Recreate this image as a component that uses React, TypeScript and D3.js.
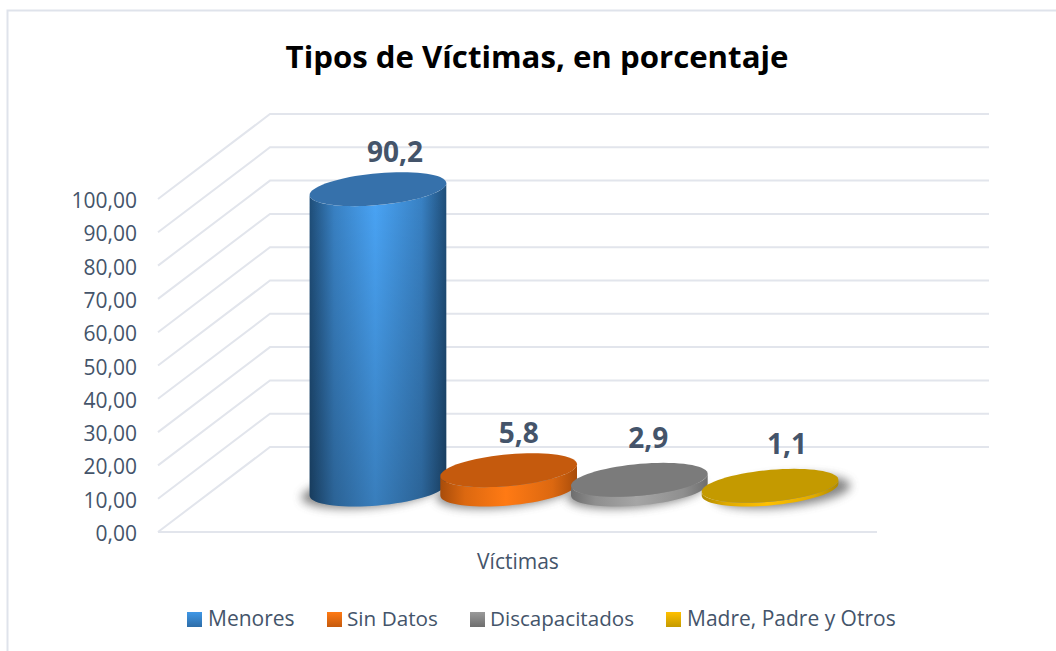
import React, { useRef, useEffect } from "react";
import * as d3 from "d3";

const title = "Tipos de Víctimas, en porcentaje";
const axisTitle = "Víctimas";
const categories = ["Menores", "Sin Datos", "Discapacitados", "Madre, Padre y Otros"];
const values = [90.2, 5.8, 2.9, 1.1];
const valueLabels = ["90,2", "5,8", "2,9", "1,1"];
const yTicks = [0, 10, 20, 30, 40, 50, 60, 70, 80, 90, 100];

const topColors = ["#3671ab", "#c55a0d", "#7b7b7b", "#c49a00"];
const edgeColors = ["#1f4e79", "#a84c0a", "#6e6e6e", "#b08a00"];
const midColors = ["#4aa5f7", "#ff7a14", "#a5a5a5", "#ffc000"];
const swatchTop = ["#3f97e6", "#ff7a14", "#9a9a9a", "#ffc000"];
const swatchBottom = ["#2e6da8", "#c55a0d", "#6e6e6e", "#c49a00"];

const labelDx = [17, 10, 9, 17];
const labelDy = [-27, -27, -32, -32];
const legendSwatchX = [187, 327, 470, 666];
const legendTextX = [21, 20, 20, 21];
const legendFontSize = [21, 20.7, 20.6, 21];
const shadowDx = [-8, -4, -4, 12];

const textColor = "#44546a";
const gridColor = "#e2e5ec";
const font = "'Open Sans', sans-serif";

export default function App() {
  const ref = useRef<SVGSVGElement>(null);

  useEffect(() => {
    const svg = d3.select(ref.current);
    svg.selectAll("*").remove();

    const width = 1056;
    const height = 651;
    const depth = { x: 112, y: -85 };

    // y scale is the front face of the 3D box
    const y = d3.scaleLinear().domain([0, 100]).range([532, 199]);
    const x = d3.scaleBand().domain(categories).range([312.6, 835.4]);
    const cx = (c: string) => x(c)! + x.bandwidth() / 2;
    const baseY = y(0) + depth.y / 2;

    // outer frame
    svg
      .append("path")
      .attr("d", `M7.5,${height} V10.5 H${width}`)
      .attr("fill", "none")
      .attr("stroke", "#dfe3eb")
      .attr("stroke-width", 2);

    const defs = svg.append("defs");
    defs
      .append("filter")
      .attr("id", "blur")
      .attr("x", "-30%")
      .attr("y", "-50%")
      .attr("width", "160%")
      .attr("height", "200%")
      .append("feGaussianBlur")
      .attr("stdDeviation", 5);

    categories.forEach((c, i) => {
      const g = defs.append("linearGradient").attr("id", `body${i}`);
      const blend = d3.interpolateRgb(edgeColors[i], midColors[i])(0.6);
      g.append("stop").attr("offset", "0%").attr("stop-color", edgeColors[i]);
      g.append("stop").attr("offset", "18%").attr("stop-color", blend);
      g.append("stop").attr("offset", "48%").attr("stop-color", midColors[i]);
      g.append("stop").attr("offset", "82%").attr("stop-color", blend);
      g.append("stop").attr("offset", "100%").attr("stop-color", edgeColors[i]);
      const s = defs
        .append("linearGradient")
        .attr("id", `swatch${i}`)
        .attr("x1", 0)
        .attr("x2", 0)
        .attr("y1", 0)
        .attr("y2", 1);
      s.append("stop").attr("offset", "0%").attr("stop-color", swatchTop[i]);
      s.append("stop").attr("offset", "100%").attr("stop-color", swatchBottom[i]);
    });
    const shade = defs
      .append("linearGradient")
      .attr("id", "shade")
      .attr("x1", 0)
      .attr("x2", 0)
      .attr("y1", 0)
      .attr("y2", 1);
    shade.append("stop").attr("offset", "0%").attr("stop-color", "#000").attr("stop-opacity", 0);
    shade.append("stop").attr("offset", "100%").attr("stop-color", "#000").attr("stop-opacity", 0.24);

    // gridlines, front left -> back left -> back right
    svg
      .append("g")
      .selectAll("path")
      .data(yTicks)
      .join("path")
      .attr("d", (d) => {
        const yy = y(d);
        return `M158,${yy} L${158 + depth.x},${yy + depth.y} H989`;
      })
      .attr("fill", "none")
      .attr("stroke", gridColor)
      .attr("stroke-width", 2);
    svg
      .append("line")
      .attr("x1", 158)
      .attr("x2", 877)
      .attr("y1", y(0))
      .attr("y2", y(0))
      .attr("stroke", gridColor)
      .attr("stroke-width", 2);

    // axis labels
    const axis = d3
      .axisLeft(y)
      .tickValues(yTicks)
      .tickSize(0)
      .tickPadding(0)
      .tickFormat((d) => d3.format(".2f")(d as number).replace(".", ","));
    const axisG = svg.append("g").attr("transform", "translate(137,1)").call(axis);
    axisG.select(".domain").remove();
    axisG
      .selectAll("text")
      .attr("font-family", font)
      .attr("font-size", 21)
      .attr("fill", textColor)
      .attr("dy", "0.36em");

    // tilted ellipse outline of the cylinder ends
    const A = 64;
    const B = 24;
    const C = 17;
    const tMax = Math.atan2(B, A);
    const pt = (c: number, yy: number, t: number): [number, number] => [
      c + Math.cos(t) * A + Math.sin(t) * B,
      yy - Math.sin(t) * C,
    ];
    const line = d3.line();
    const ellipse = (c: number, yy: number) =>
      line(d3.range(0, 72).map((k) => pt(c, yy, (k / 72) * 2 * Math.PI))) + "Z";
    const body = (c: number, top: number, bottom: number) => {
      const front = d3.range(0, 37).map((k) => pt(c, bottom, tMax - (k / 36) * Math.PI));
      const back = d3.range(0, 37).map((k) => pt(c, top, tMax + Math.PI + (k / 36) * Math.PI));
      return line([...front, ...back]) + "Z";
    };

    // shadows under the marks
    svg
      .append("g")
      .selectAll("path")
      .data(categories)
      .join("path")
      .attr("d", (c, i) => ellipse(cx(c) + shadowDx[i], baseY + 2))
      .attr("fill", "#555")
      .attr("opacity", 0.7)
      .attr("filter", "url(#blur)");

    const bars = svg
      .append("g")
      .selectAll("g")
      .data(categories)
      .join("g");
    bars
      .append("path")
      .attr("d", (c, i) => body(cx(c), y(values[i]) + depth.y / 2, baseY))
      .attr("fill", (c, i) => `url(#body${i})`);
    bars
      .append("path")
      .attr("d", (c, i) => body(cx(c), y(values[i]) + depth.y / 2, baseY))
      .attr("fill", "url(#shade)")
      .attr("opacity", (c, i) => (values[i] > 50 ? 1 : 0));
    bars
      .append("path")
      .attr("d", (c, i) => ellipse(cx(c), y(values[i]) + depth.y / 2))
      .attr("fill", (c, i) => topColors[i]);

    // value labels
    svg
      .append("g")
      .selectAll("text")
      .data(categories)
      .join("text")
      .attr("x", (c, i) => cx(c) + labelDx[i])
      .attr("y", (c, i) => y(values[i]) + depth.y / 2 + labelDy[i])
      .attr("text-anchor", "middle")
      .attr("font-family", font)
      .attr("font-weight", 700)
      .attr("font-size", 28)
      .attr("fill", textColor)
      .text((c, i) => valueLabels[i]);

    svg
      .append("text")
      .attr("x", 537)
      .attr("y", 68)
      .attr("text-anchor", "middle")
      .attr("font-family", font)
      .attr("font-weight", 700)
      .attr("font-size", 31.2)
      .attr("fill", "#000")
      .text(title);

    svg
      .append("text")
      .attr("x", 518)
      .attr("y", 569)
      .attr("text-anchor", "middle")
      .attr("font-family", font)
      .attr("font-size", 21)
      .attr("fill", textColor)
      .text(axisTitle);

    // legend
    const legend = svg
      .append("g")
      .selectAll("g")
      .data(categories)
      .join("g")
      .attr("transform", (c, i) => `translate(${legendSwatchX[i]},0)`);
    legend
      .append("rect")
      .attr("y", 612)
      .attr("width", 15)
      .attr("height", 15)
      .attr("fill", (c, i) => `url(#swatch${i})`);
    legend
      .append("text")
      .attr("x", (c, i) => legendTextX[i])
      .attr("y", 626)
      .attr("font-family", font)
      .attr("font-size", (c, i) => legendFontSize[i])
      .attr("fill", textColor)
      .text((c) => c);
  }, []);

  return (
    <svg
      ref={ref}
      width={1056}
      height={651}
      style={{ position: "absolute", left: 0, top: 0, background: "#fff" }}
    ></svg>
  );
}
